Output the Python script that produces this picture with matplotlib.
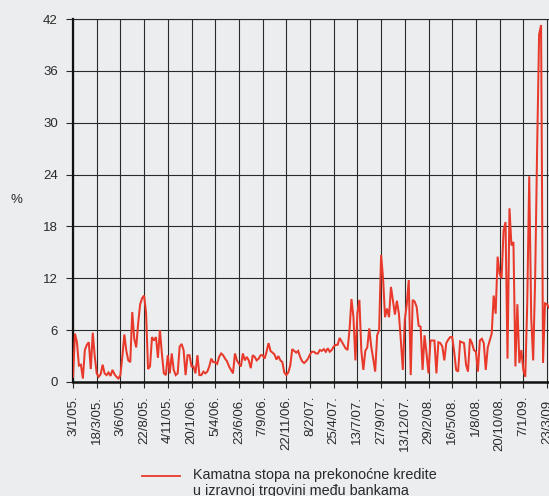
import numpy as np
import matplotlib
matplotlib.use("Agg")
import matplotlib.pyplot as plt
from matplotlib.lines import Line2D

plt.rcParams['font.family'] = ['Liberation Sans', 'DejaVu Sans']

tick_labels = ["3/1/05.", "18/3/05.", "3/6/05.", "22/8/05.", "4/11/05.", "20/1/06.",
               "5/4/06.", "23/6/06.", "7/9/06.", "22/11/06.", "8/2/07.", "25/4/07.",
               "13/7/07.", "27/9/07.", "13/12/07.", "29/2/08.", "16/5/08.", "1/8/08.",
               "20/10/08.", "7/1/09.", "23/3/09."]

samples_per_tick = 12  # sampled readings between consecutive date ticks

rate_2005a = [0.6, 5.6, 4.6, 1.9, 2.0, 0.4, 3.7, 4.3, 4.6, 1.5, 5.7, 3.0,
              1.0, 0.6, 0.9, 2.0, 1.0, 0.8, 1.1, 0.7, 1.4, 0.9, 0.6, 0.4,
              0.8, 3.0, 5.5, 3.6, 2.5, 2.3, 8.1, 5.0, 4.0, 6.8, 9.0, 9.7,
              10.0, 8.0, 1.5, 1.8, 5.2, 4.8, 5.2, 2.8, 6.0, 3.3, 1.0, 0.8]
rate_2005b = [3.1, 1.0, 3.3, 1.4, 0.8, 1.0, 4.1, 4.4, 3.7, 0.8, 3.1, 3.1,
              1.8, 1.8, 1.0, 3.1, 0.8, 0.8, 1.2, 1.0, 1.2, 1.8, 2.7, 2.3,
              2.3, 2.1, 2.9, 3.3, 3.1, 2.7, 2.4, 1.8, 1.4, 1.0, 3.3, 2.5,
              2.1, 1.8, 3.3, 2.5, 2.9, 2.5, 1.6, 3.1, 2.9, 2.5, 2.7, 3.1]
rate_2006 = [3.1, 2.7, 3.5, 4.5, 3.6, 3.4, 3.2, 2.6, 3.0, 2.5, 2.3, 1.1,
             0.8, 1.1, 1.9, 3.8, 3.6, 3.4, 3.6, 2.9, 2.4, 2.2, 2.4, 2.7,
             3.2, 3.5, 3.5, 3.3, 3.3, 3.7, 3.6, 3.8, 3.5, 3.9, 3.5, 3.7,
             4.1, 4.3, 4.3, 5.1, 4.7, 4.3, 3.9, 3.7, 6.0, 9.6, 7.5, 2.5]
rate_2007 = [8.0, 9.5, 3.6, 1.4, 3.6, 4.0, 6.2, 4.1, 2.7, 1.2, 5.4, 6.0,
             14.7, 12.0, 7.5, 8.5, 7.5, 11.0, 9.4, 7.8, 9.4, 7.9, 4.8, 1.4,
             7.2, 9.0, 11.8, 0.8, 9.5, 9.3, 8.7, 6.5, 6.4, 1.4, 5.4, 3.3,
             1.0, 4.8, 4.8, 4.8, 1.0, 4.6, 4.5, 4.1, 2.5, 4.5, 4.9, 5.2]
rate_2008 = [5.2, 3.5, 1.4, 1.2, 4.7, 4.6, 4.5, 2.0, 1.2, 5.0, 4.5, 3.7,
             3.5, 1.2, 4.8, 5.0, 4.5, 1.4, 4.0, 4.8, 5.6, 10.0, 7.9, 14.5,
             12.5, 12.0, 17.5, 18.5, 2.7, 20.1, 15.8, 16.2, 1.8, 9.0, 2.2, 3.7,
             1.4, 0.6, 9.1, 23.8, 7.5, 2.5, 12.0, 27.0, 40.2, 41.3, 2.2, 9.1,
             9.0, 8.6]

series_label = "Kamatna stopa na prekonoćne kredite\nu izravnoj trgovini među bankama"

values = np.array(rate_2005a + rate_2005b + rate_2006 + rate_2007 + rate_2008)
x = np.arange(len(values)) / samples_per_tick

bg = '#ecedef'
red = '#e8392a'
grid_c = '#2a2a2a'

fig = plt.figure(figsize=(5.49, 4.96), dpi=100, facecolor=bg)
W, H = 549, 496
ax = fig.add_axes([73 / W, 1 - 382 / H, (549 - 73) / W, (382 - 19) / H])
ax.set_facecolor(bg)

ax.plot(x, values, color=red, lw=1.45, solid_joinstyle='miter', zorder=3)

ax.set_xlim(0, 20 + 2 / 23.7)
ax.set_ylim(0, 42)
ax.set_yticks(np.arange(0, 43, 6))
ax.set_xticks(np.arange(len(tick_labels)))
ax.set_xticklabels(tick_labels, rotation=90, fontsize=9.5, color='#2a2a2a')
for lab in ax.get_yticklabels():
    lab.set_fontsize(9.5)
    lab.set_color('#2a2a2a')

ax.grid(True, color=grid_c, lw=0.8, zorder=1)
ax.tick_params(axis='y', length=5, width=0.8, pad=6, color=grid_c)
ax.tick_params(axis='x', length=4, width=0.8, pad=6, color=grid_c)

ax.spines['right'].set_visible(False)
ax.spines['top'].set_linewidth(0.8)
ax.spines['top'].set_color(grid_c)
ax.spines['left'].set_linewidth(1.6)
ax.spines['left'].set_color('#111111')
ax.spines['bottom'].set_linewidth(1.8)
ax.spines['bottom'].set_color('#111111')

fig.text(16.5 / W, 1 - 200 / H, '%', ha='center', va='center', fontsize=9.5, color='#2a2a2a')

# legend drawn manually in figure coordinates (second line runs off the bottom as in the source)
fig.add_artist(Line2D([142 / W, 180 / W], [1 - 475.5 / H, 1 - 475.5 / H], color=red, lw=1.3))
fig.text(193 / W, 1 - 467.5 / H, series_label, ha='left', va='top', fontsize=10.4,
         color='#2a2a2a', linespacing=1.2)

fig.savefig('out.png', dpi=100, facecolor=bg)
